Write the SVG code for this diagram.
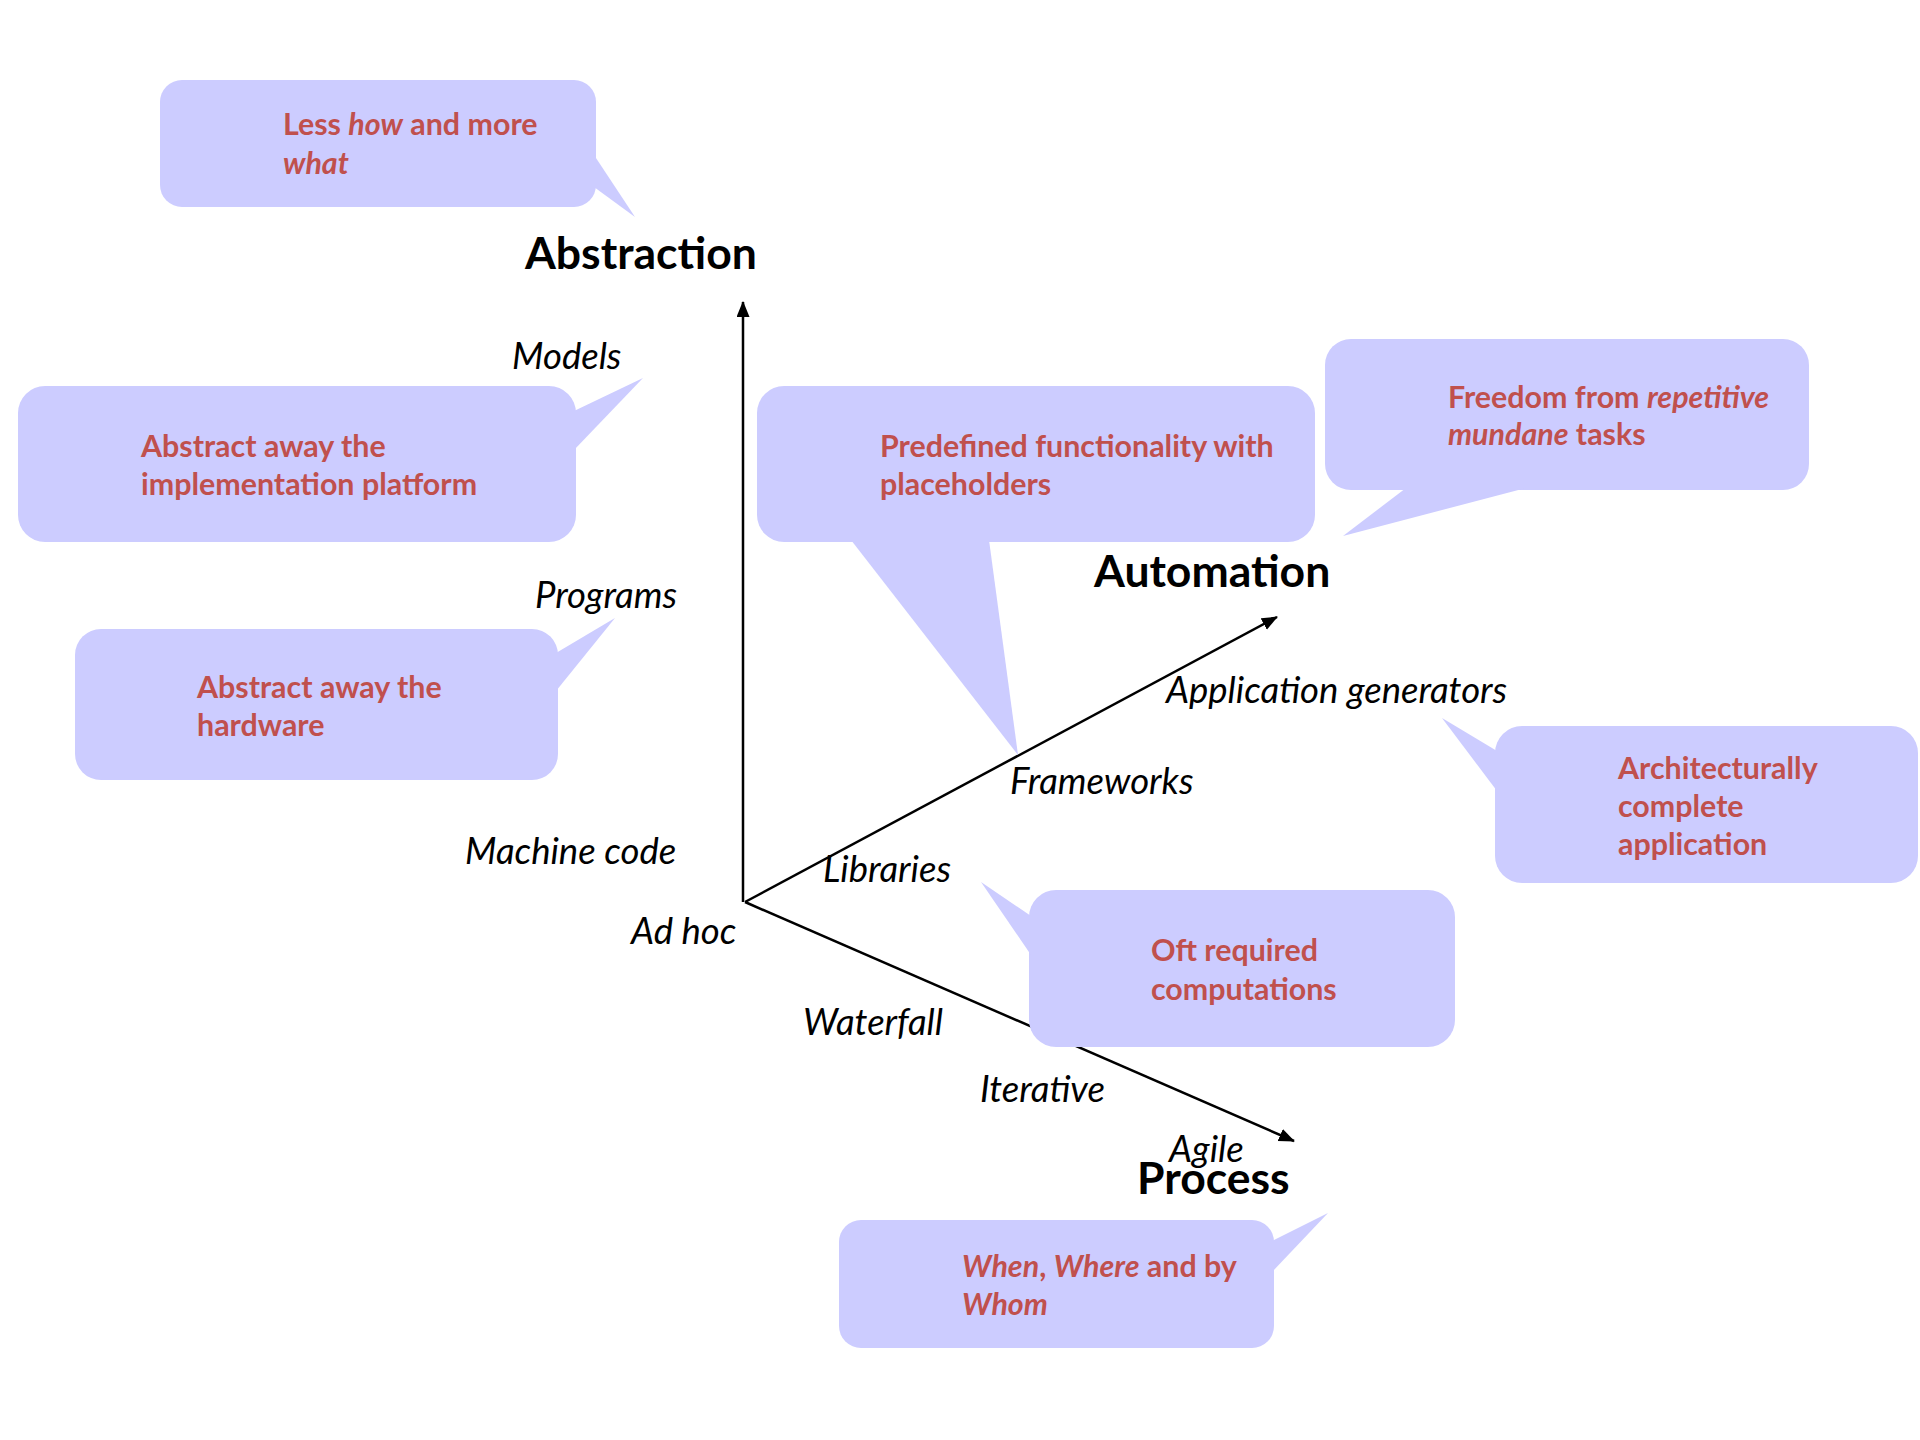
<svg xmlns="http://www.w3.org/2000/svg" width="1920" height="1440" viewBox="0 0 1920 1440">
  <defs>
    <style>
      .bubble { fill: #CCCCFF; }
      .note { font-family: Lato, "Open Sans", "Liberation Sans", sans-serif; font-size: 30.4px; font-weight: bold; fill: #C0504D; }
      .note .em { font-style: italic; }
      .axis { stroke: #000000; stroke-width: 2.5; fill: none; }
      .title { font-family: Lato, "Open Sans", "Liberation Sans", sans-serif; font-size: 44.5px; font-weight: bold; fill: #000000; }
      .tick { font-family: Lato, "Open Sans", "Liberation Sans", sans-serif; font-size: 36.5px; font-style: italic; fill: #000000; }
    </style>
    <marker id="arrowhead" markerUnits="userSpaceOnUse" markerWidth="18" markerHeight="14" refX="15" refY="6.5" orient="auto">
      <path d="M0,0 L16,6.5 L0,13 Z" fill="#000000"/>
    </marker>
  </defs>

  <rect width="1920" height="1440" fill="#FFFFFF"/>

  <!-- the three axes -->
  <g id="connectors">
    <line class="axis" x1="743" y1="902" x2="743" y2="302" marker-end="url(#arrowhead)"/>
    <line class="axis" x1="745" y1="902" x2="1277" y2="617" marker-end="url(#arrowhead)"/>
    <line class="axis" x1="745" y1="902" x2="1294" y2="1141" marker-end="url(#arrowhead)"/>
  </g>

  <!-- axis titles -->
  <g id="title-abstraction"><text class="title" x="525" y="269">Abstraction</text></g>
  <g id="title-automation"><text class="title" x="1094" y="587">Automation</text></g>
  <g id="title-process"><text class="title" x="1137" y="1194">Process</text></g>

  <!-- abstraction axis steps -->
  <g id="label-models"><text class="tick" x="512" y="369">Models</text></g>
  <g id="label-programs"><text class="tick" x="535" y="608">Programs</text></g>
  <g id="label-machine-code"><text class="tick" x="465" y="864">Machine code</text></g>

  <!-- automation axis steps -->
  <g id="label-ad-hoc"><text class="tick" x="631" y="944">Ad hoc</text></g>
  <g id="label-libraries"><text class="tick" x="823" y="882">Libraries</text></g>
  <g id="label-frameworks"><text class="tick" x="1010" y="794">Frameworks</text></g>
  <g id="label-app-generators"><text class="tick" x="1166" y="703">Application generators</text></g>

  <!-- process axis steps -->
  <g id="label-waterfall"><text class="tick" x="803" y="1035">Waterfall</text></g>
  <g id="label-iterative"><text class="tick" x="980" y="1102">Iterative</text></g>
  <g id="label-agile"><text class="tick" x="1169" y="1162">Agile</text></g>

  <!-- callouts -->
  <g id="callout-how-what">
    <rect class="bubble" x="160" y="80" width="436" height="127" rx="22"/>
    <polygon class="bubble" points="594,155 635,217 594,187"/>
    <text class="note" x="283" y="135">Less <tspan class="em">how</tspan> and more</text>
    <text class="note" x="283" y="174"><tspan class="em">what</tspan></text>
  </g>

  <g id="callout-platform">
    <rect class="bubble" x="18" y="386" width="558" height="156" rx="27"/>
    <polygon class="bubble" points="574,411 643,378 574,450"/>
    <text class="note" x="141" y="457">Abstract away the</text>
    <text class="note" x="141" y="495">implementation platform</text>
  </g>

  <g id="callout-hardware">
    <rect class="bubble" x="75" y="629" width="483" height="151" rx="26"/>
    <polygon class="bubble" points="556,653 615,618 556,691"/>
    <text class="note" x="197" y="698">Abstract away the</text>
    <text class="note" x="197" y="736">hardware</text>
  </g>

  <g id="callout-placeholders">
    <rect class="bubble" x="757" y="386" width="558" height="156" rx="27"/>
    <polygon class="bubble" points="851,540 1018,755 989,540"/>
    <text class="note" x="880" y="457">Predefined functionality with</text>
    <text class="note" x="880" y="495">placeholders</text>
  </g>

  <g id="callout-mundane">
    <rect class="bubble" x="1325" y="339" width="484" height="151" rx="26"/>
    <polygon class="bubble" points="1406,488 1343,536 1526,488"/>
    <text class="note" x="1448" y="408">Freedom from <tspan class="em">repetitive</tspan></text>
    <text class="note" x="1448" y="445"><tspan class="em">mundane</tspan> tasks</text>
  </g>

  <g id="callout-complete-app">
    <rect class="bubble" x="1495" y="726" width="423" height="157" rx="27"/>
    <polygon class="bubble" points="1497,751 1442,718 1497,791"/>
    <text class="note" x="1618" y="779">Architecturally</text>
    <text class="note" x="1618" y="817">complete</text>
    <text class="note" x="1618" y="855">application</text>
  </g>

  <g id="callout-computations">
    <rect class="bubble" x="1029" y="890" width="426" height="157" rx="27"/>
    <polygon class="bubble" points="1031,916 981,882 1031,955"/>
    <text class="note" x="1151" y="961">Oft required</text>
    <text class="note" x="1151" y="1000">computations</text>
  </g>

  <g id="callout-when-where">
    <rect class="bubble" x="839" y="1220" width="435" height="128" rx="22"/>
    <polygon class="bubble" points="1272,1241 1328,1213 1272,1272"/>
    <text class="note" x="962" y="1277"><tspan class="em">When</tspan>, <tspan class="em">Where</tspan> and by</text>
    <text class="note" x="962" y="1315"><tspan class="em">Whom</tspan></text>
  </g>
</svg>
